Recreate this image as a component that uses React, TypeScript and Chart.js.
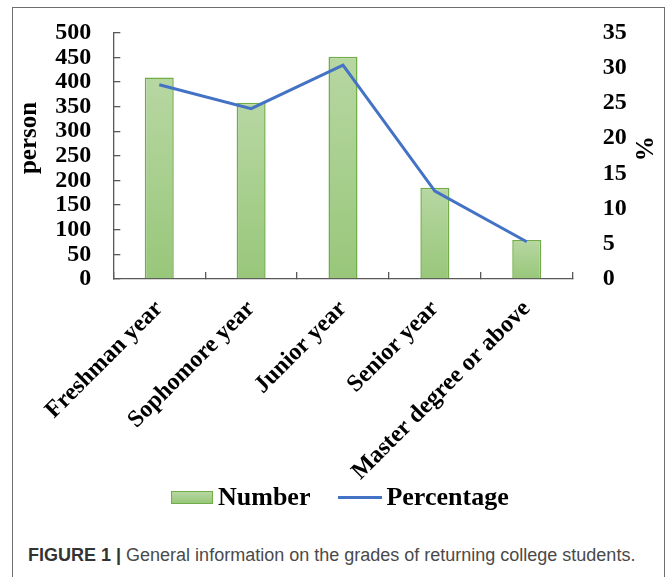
import { useEffect, useRef } from "react";
import { Chart, registerables } from "chart.js";

Chart.register(...registerables);

// Grades of returning college students
const grades = [
  "Freshman year",
  "Sophomore year",
  "Junior year",
  "Senior year",
  "Master degree or above",
];
const studentCounts = [409, 358, 451, 185, 79];
const studentPercents = [27.6, 24.2, 30.4, 12.5, 5.3];

const countAxisMax = 500;
const countAxisStep = 50;
const percentAxisMax = 35;
const percentAxisStep = 5;

const BAR_TOP = "#b7d7a2";
const BAR_BOTTOM = "#98c77a";
const BAR_EDGE = "#70ad47";
const LINE_BLUE = "#4472c4";
const AXIS_GRAY = "#595959";
const SERIF = "'Liberation Serif', 'Times New Roman', serif";

// Rotated axis captions, placed relative to the plot area
const axisCaptions = {
  id: "axisCaptions",
  afterDraw(chart: any) {
    const { ctx, chartArea } = chart;
    const h = chartArea.bottom - chartArea.top;
    ctx.save();
    ctx.fillStyle = "#000";
    ctx.font = `bold 25px ${SERIF}`;
    ctx.textAlign = "center";
    ctx.textBaseline = "alphabetic";

    ctx.save();
    ctx.translate(chartArea.left - 77.5, chartArea.top + h * 0.4275);
    ctx.rotate(-Math.PI / 2);
    ctx.fillText("person", 0, 0);
    ctx.restore();

    ctx.save();
    ctx.translate(chartArea.right + 80, chartArea.top + h * 0.471);
    ctx.rotate(-Math.PI / 2);
    ctx.fillText("%", 0, 0);
    ctx.restore();

    ctx.restore();
  },
};

// Fixed axis width; label overhang is kept out of the plot-area padding
const fixedVerticalAxis = (width: number) => (s: any) => {
  s.width = width;
  s.paddingTop = 0;
  s.paddingBottom = 0;
};

function ReturningStudentsChart() {
  const canvasRef = useRef<HTMLCanvasElement | null>(null);

  useEffect(() => {
    const canvas = canvasRef.current;
    if (!canvas) return;

    const tickFont = { family: SERIF, weight: "bold" as const, size: 24 };
    const categoryFont = { family: SERIF, weight: "bold" as const, size: 24 };

    const chart = new Chart(canvas, {
      type: "bar",
      data: {
        labels: grades,
        datasets: [
          {
            type: "line",
            label: "Percentage",
            data: studentPercents,
            yAxisID: "y1",
            borderColor: LINE_BLUE,
            backgroundColor: LINE_BLUE,
            borderWidth: 3,
            pointRadius: 0,
            tension: 0,
            order: 0,
          },
          {
            type: "bar",
            label: "Number",
            data: studentCounts,
            yAxisID: "y",
            backgroundColor: (c: any) => {
              const chart = c.chart;
              const area = chart.chartArea;
              if (!area || c.type !== "data") return BAR_BOTTOM;
              const top = chart.scales.y.getPixelForValue(c.raw as number);
              const g = chart.ctx.createLinearGradient(0, top, 0, area.bottom);
              g.addColorStop(0, BAR_TOP);
              g.addColorStop(1, BAR_BOTTOM);
              return g;
            },
            borderColor: BAR_EDGE,
            borderWidth: 1.5,
            categoryPercentage: 1,
            barPercentage: 0.316,
            order: 1,
          },
        ],
      },
      options: {
        animation: false,
        responsive: false,
        maintainAspectRatio: false,
        layout: { padding: { top: 25.7, left: 0, right: 0, bottom: 0 } },
        plugins: {
          legend: { display: false },
          tooltip: { enabled: false },
        },
        scales: {
          x: {
            type: "category",
            offset: true,
            grid: {
              display: true,
              offset: true,
              drawOnChartArea: false,
              drawTicks: true,
              tickLength: -7,
              color: AXIS_GRAY,
              lineWidth: 1.3,
            },
            border: { display: true, color: AXIS_GRAY, width: 1.3 },
            ticks: {
              autoSkip: false,
              minRotation: 45,
              maxRotation: 45,
              padding: 23,
              color: "#000",
              font: categoryFont,
            },
            afterFit: (s: any) => {
              s.height = 208;
            },
          },
          y: {
            type: "linear",
            position: "left",
            min: 0,
            max: countAxisMax,
            ticks: {
              stepSize: countAxisStep,
              autoSkip: false,
              padding: 29,
              color: "#000",
              font: tickFont,
            },
            grid: {
              display: true,
              drawOnChartArea: false,
              drawTicks: true,
              tickLength: -7,
              color: AXIS_GRAY,
              lineWidth: 1.3,
            },
            border: { display: true, color: AXIS_GRAY, width: 1.3 },
            afterFit: fixedVerticalAxis(101.3),
          },
          y1: {
            type: "linear",
            position: "right",
            min: 0,
            max: percentAxisMax,
            ticks: {
              stepSize: percentAxisStep,
              autoSkip: false,
              padding: 22,
              color: "#000",
              font: tickFont,
            },
            grid: { display: false },
            border: { display: false },
            afterFit: fixedVerticalAxis(92.3),
          },
        },
      },
      plugins: [axisCaptions],
    });

    return () => chart.destroy();
  }, []);

  return (
    <canvas
      ref={canvasRef}
      width={653}
      height={480}
      style={{ position: "absolute", left: 12, top: 7, width: 653, height: 480 }}
    />
  );
}

export default function App() {
  const legendText = {
    fontFamily: SERIF,
    fontWeight: "bold" as const,
    fontSize: 26,
    lineHeight: "26px",
    color: "#000",
  };
  return (
    <div
      style={{
        position: "absolute",
        left: 0,
        top: 0,
        width: 667,
        height: 577,
        overflow: "hidden",
        background: "#fff",
      }}
    >
      <div
        style={{
          position: "absolute",
          left: 12,
          top: 7,
          width: 651,
          height: 600,
          border: "1.5px solid #6e6e6e",
        }}
      />
      <ReturningStudentsChart />
      <div
        style={{
          position: "absolute",
          left: 171,
          top: 484,
          height: 26,
          display: "flex",
          alignItems: "center",
          whiteSpace: "nowrap",
        }}
      >
        <span
          style={{
            display: "inline-block",
            width: 40,
            height: 11,
            border: `1.5px solid ${BAR_EDGE}`,
            background: `linear-gradient(${BAR_TOP}, ${BAR_BOTTOM})`,
            marginRight: 5,
          }}
        />
        <span style={legendText}>Number</span>
        <span
          style={{
            display: "inline-block",
            width: 44,
            height: 3,
            background: LINE_BLUE,
            marginLeft: 28,
            marginRight: 4,
          }}
        />
        <span style={legendText}>Percentage</span>
      </div>
      <div
        style={{
          position: "absolute",
          left: 28,
          top: 546,
          fontFamily: "'Liberation Sans', Arial, sans-serif",
          fontSize: 18,
          lineHeight: "18px",
          whiteSpace: "nowrap",
          color: "#4a4a4a",
        }}
      >
        <span style={{ fontWeight: "bold", color: "#333" }}>FIGURE 1 |</span>{" "}
        General information on the grades of returning college students.
      </div>
    </div>
  );
}
